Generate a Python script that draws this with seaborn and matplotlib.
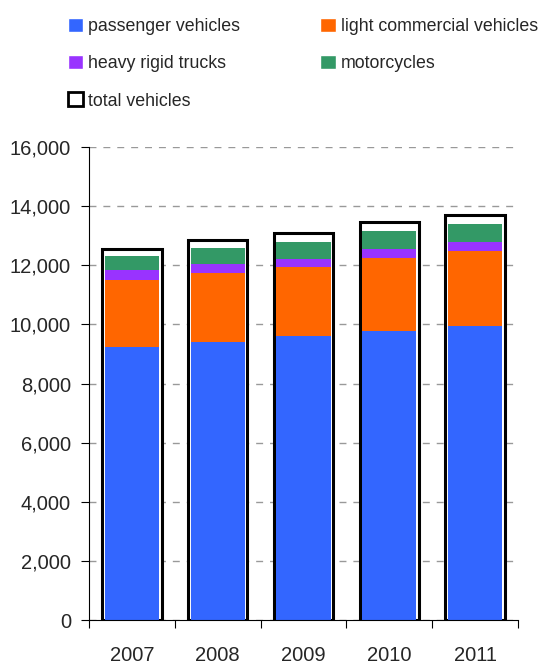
import matplotlib
matplotlib.use('Agg')
import matplotlib.pyplot as plt
from matplotlib.patches import Patch
import numpy as np
import pandas as pd
import seaborn as sns

# Werte
years = ['2007', '2008', '2009', '2010', '2011']
passenger = [9235, 9405, 9608, 9777, 9946]
light_commercial = [2267, 2334, 2334, 2469, 2537]
heavy_rigid = [338, 315, 260, 305, 305]
motorcycles = [474, 531, 586, 609, 609]
total = [12551, 12855, 13092, 13454, 13691]

farben = {'passenger vehicles': '#3366FF',
          'light commercial vehicles': '#FF6600',
          'heavy rigid trucks': '#9933FF',
          'motorcycles': '#339966'}

sns.set_style('white')
plt.rcParams['font.family'] = ['Liberation Sans', 'DejaVu Sans']

df = pd.DataFrame({'year': years,
                   'passenger vehicles': passenger,
                   'light commercial vehicles': light_commercial,
                   'heavy rigid trucks': heavy_rigid,
                   'motorcycles': motorcycles,
                   'total': total})

fig = plt.figure(figsize=(5.41, 6.64), dpi=100)
ax = fig.add_axes([89 / 541, 44 / 664, 429 / 541, 473 / 664])

# Rahmen fuer Gesamtzahl
sns.barplot(x='year', y='total', data=df, color='white', edgecolor='black',
            linewidth=2.2, width=0.69, saturation=1, errorbar=None, ax=ax)

# gestapelt: von oben nach unten kumulativ zeichnen
reihen = ['passenger vehicles', 'light commercial vehicles', 'heavy rigid trucks', 'motorcycles']
kum = df[reihen].cumsum(axis=1)
for r in reversed(reihen):
    sns.barplot(x=df['year'], y=kum[r], color=farben[r], width=0.63,
                saturation=1, errorbar=None, linewidth=0, ax=ax)

ax.set_ylim(0, 16000)
ax.set_xlim(-0.5, 4.5)
ax.set_yticks(np.arange(0, 16001, 2000))
ax.set_yticklabels([f'{v:,}' for v in range(0, 16001, 2000)])
ax.yaxis.grid(True, color='#999999', linestyle=(0, (5, 5)), linewidth=1.0)
ax.set_axisbelow(True)
ax.set_xlabel('')
ax.set_ylabel('')

for s in ['top', 'right']:
    ax.spines[s].set_visible(False)
for s in ['left', 'bottom']:
    ax.spines[s].set_color('black')
    ax.spines[s].set_linewidth(0.8)

ax.tick_params(axis='y', which='major', direction='out', length=6, width=0.8,
               color='black', pad=7, labelsize=14.5, left=True)
ax.tick_params(axis='x', which='major', length=0, pad=19, labelsize=14.5)
ax.set_xticks(np.arange(-0.5, 4.6, 1.0), minor=True)
ax.tick_params(axis='x', which='minor', direction='out', length=6, width=0.8,
               color='black', bottom=True)

handles = [Patch(facecolor=farben['passenger vehicles'], label='passenger vehicles'),
           Patch(facecolor=farben['heavy rigid trucks'], label='heavy rigid trucks'),
           Patch(facecolor='white', edgecolor='black', linewidth=2, label='total vehicles'),
           Patch(facecolor=farben['light commercial vehicles'], label='light commercial vehicles'),
           Patch(facecolor=farben['motorcycles'], label='motorcycles')]
fig.legend(handles=handles, ncol=2, loc='upper left', bbox_to_anchor=(68 / 541, 1 - 18 / 664),
           frameon=False, fontsize=12.8, borderpad=0, borderaxespad=0,
           handlelength=0.85, handleheight=0.85, handletextpad=0.3,
           labelspacing=1.12, columnspacing=4.5)

fig.savefig('out.png', dpi=100)
